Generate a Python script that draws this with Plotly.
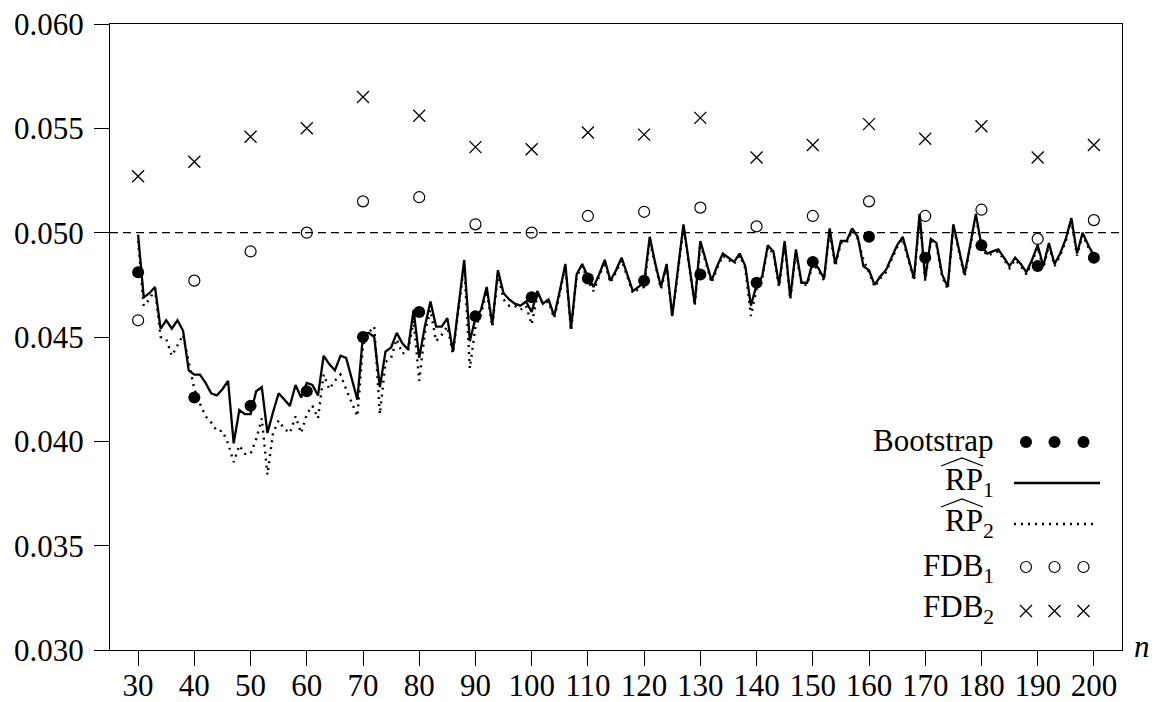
import plotly.graph_objects as go

# ---------------- data ----------------
n_vals = list(range(30, 201))

rp1 = [
    0.0499, 0.0469, 0.0471, 0.0474, 0.0454, 0.0458, 0.0454, 0.0458, 0.0453, 0.0434,  # 30-39
    0.0432, 0.0432, 0.0428, 0.0423, 0.0422, 0.0425, 0.0429, 0.0399, 0.0415, 0.0413,  # 40-49
    0.0413, 0.0424, 0.0426, 0.0404, 0.0414, 0.0423, 0.0420, 0.0417, 0.0427, 0.0421,  # 50-59
    0.0428, 0.0427, 0.0422, 0.0441, 0.0437, 0.0434, 0.0441, 0.0440, 0.0430, 0.0420,  # 60-69
    0.0451, 0.0452, 0.0450, 0.0426, 0.0443, 0.0445, 0.0452, 0.0447, 0.0444, 0.0463,  # 70-79
    0.0440, 0.0455, 0.0467, 0.0455, 0.0455, 0.0459, 0.0443, 0.0466, 0.0487, 0.0448,  # 80-89
    0.0459, 0.0463, 0.0474, 0.0456, 0.0482, 0.0471, 0.0468, 0.0466, 0.0465, 0.0467,  # 90-99
    0.0462, 0.0472, 0.0466, 0.0468, 0.0460, 0.0472, 0.0485, 0.0454, 0.0480, 0.0485,  # 100-109
    0.0479, 0.0474, 0.0480, 0.0487, 0.0477, 0.0482, 0.0488, 0.0480, 0.0472, 0.0474,  # 110-119
    0.0476, 0.0498, 0.0485, 0.0474, 0.0485, 0.0460, 0.0482, 0.0504, 0.0485, 0.0466,  # 120-129
    0.0496, 0.0486, 0.0477, 0.0484, 0.0490, 0.0488, 0.0486, 0.0490, 0.0484, 0.0465,  # 130-139
    0.0475, 0.0479, 0.0494, 0.0491, 0.0475, 0.0496, 0.0469, 0.0492, 0.0476, 0.0476,  # 140-149
    0.0486, 0.0483, 0.0478, 0.0502, 0.0485, 0.0496, 0.0496, 0.0502, 0.0498, 0.0484,  # 150-159
    0.0482, 0.0475, 0.0479, 0.0482, 0.0488, 0.0494, 0.0498, 0.0488, 0.0478, 0.0509,  # 160-169
    0.0478, 0.0497, 0.0495, 0.0480, 0.0474, 0.0504, 0.0492, 0.0480, 0.0494, 0.0509,  # 170-179
    0.0494, 0.0490, 0.0491, 0.0492, 0.0488, 0.0484, 0.0488, 0.0485, 0.0481, 0.0487,  # 180-189
    0.0494, 0.0484, 0.0495, 0.0485, 0.0490, 0.0497, 0.0507, 0.0490, 0.0500, 0.0494,  # 190-199
    0.0489,                                                                          # 200
]

rp2 = [
    0.0496, 0.0465, 0.0468, 0.0473, 0.0450, 0.0449, 0.0441, 0.0446, 0.0451, 0.0438,  # 30-39
    0.0425, 0.0418, 0.0412, 0.0409, 0.0405, 0.0405, 0.0399, 0.0390, 0.0398, 0.0394,  # 40-49
    0.0394, 0.0401, 0.0411, 0.0384, 0.0404, 0.0410, 0.0406, 0.0404, 0.0412, 0.0404,  # 50-59
    0.0413, 0.0417, 0.0411, 0.0432, 0.0425, 0.0429, 0.0432, 0.0425, 0.0418, 0.0412,  # 60-69
    0.0446, 0.0452, 0.0455, 0.0413, 0.0438, 0.0440, 0.0449, 0.0442, 0.0443, 0.0458,  # 70-79
    0.0429, 0.0452, 0.0463, 0.0448, 0.0451, 0.0455, 0.0442, 0.0464, 0.0485, 0.0435,  # 80-89
    0.0455, 0.0461, 0.0472, 0.0455, 0.0480, 0.0468, 0.0465, 0.0465, 0.0463, 0.0465,  # 90-99
    0.0456, 0.0470, 0.0466, 0.0467, 0.0459, 0.0471, 0.0484, 0.0453, 0.0479, 0.0484,  # 100-109
    0.0477, 0.0472, 0.0479, 0.0486, 0.0476, 0.0481, 0.0487, 0.0479, 0.0471, 0.0473,  # 110-119
    0.0474, 0.0496, 0.0484, 0.0473, 0.0484, 0.0460, 0.0481, 0.0503, 0.0484, 0.0465,  # 120-129
    0.0495, 0.0485, 0.0476, 0.0483, 0.0489, 0.0487, 0.0485, 0.0489, 0.0483, 0.0460,  # 130-139
    0.0473, 0.0478, 0.0493, 0.0490, 0.0474, 0.0495, 0.0468, 0.0491, 0.0475, 0.0475,  # 140-149
    0.0485, 0.0482, 0.0477, 0.0501, 0.0484, 0.0495, 0.0495, 0.0501, 0.0497, 0.0487,  # 150-159
    0.0481, 0.0474, 0.0478, 0.0481, 0.0487, 0.0493, 0.0497, 0.0487, 0.0477, 0.0508,  # 160-169
    0.0477, 0.0496, 0.0494, 0.0479, 0.0473, 0.0503, 0.0491, 0.0479, 0.0493, 0.0508,  # 170-179
    0.0493, 0.0489, 0.0490, 0.0491, 0.0487, 0.0483, 0.0487, 0.0484, 0.0480, 0.0486,  # 180-189
    0.0493, 0.0483, 0.0494, 0.0484, 0.0489, 0.0496, 0.0506, 0.0489, 0.0499, 0.0493,  # 190-199
    0.0488,                                                                          # 200
]

grid_n = list(range(30, 201, 10))
bootstrap = [0.0481, 0.0421, 0.0417, 0.0424, 0.0450, 0.0462, 0.0460, 0.0469, 0.0478,
             0.0477, 0.0480, 0.0476, 0.0486, 0.0498, 0.0488, 0.0494, 0.0484, 0.0488]
fdb1 = [0.0458, 0.0477, 0.0491, 0.0500, 0.0515, 0.0517, 0.0504, 0.0500, 0.0508,
        0.0510, 0.0512, 0.0503, 0.0508, 0.0515, 0.0508, 0.0511, 0.0497, 0.0506]
fdb2 = [0.0527, 0.0534, 0.0546, 0.0550, 0.0565, 0.0556, 0.0541, 0.0540, 0.0548,
        0.0547, 0.0555, 0.0536, 0.0542, 0.0552, 0.0545, 0.0551, 0.0536, 0.0542]

nominal_level = 0.05
x_ticks = list(range(30, 201, 10))
y_ticks = [0.030, 0.035, 0.040, 0.045, 0.050, 0.055, 0.060]
legend_labels = ["Bootstrap", "RP<sub>1</sub>", "RP<sub>2</sub>", "FDB<sub>1</sub>", "FDB<sub>2</sub>"]

# ---------------- figure ----------------
FONT = "Liberation Serif"
FS = 31
W, H = 1155, 702
ML, MR, MT, MB = 110, 33, 24, 52
PW, PH = W - ML - MR, H - MT - MB

fig = go.Figure()

fig.add_trace(go.Scatter(x=n_vals, y=rp2, mode="lines",
                         line=dict(color="black", width=2.4, dash="2px,5px"),
                         showlegend=False))
fig.add_trace(go.Scatter(x=n_vals, y=rp1, mode="lines",
                         line=dict(color="black", width=2.3),
                         showlegend=False))
fig.add_trace(go.Scatter(x=grid_n, y=bootstrap, mode="markers",
                         marker=dict(symbol="circle", size=12, color="black"),
                         showlegend=False))
fig.add_trace(go.Scatter(x=grid_n, y=fdb1, mode="markers",
                         marker=dict(symbol="circle-open", size=11, color="black",
                                     line=dict(width=1.2)),
                         showlegend=False))
fig.add_trace(go.Scatter(x=grid_n, y=fdb2, mode="markers",
                         marker=dict(symbol="x-thin", size=12, color="black",
                                     line=dict(width=1.3, color="black")),
                         showlegend=False))

fig.add_hline(y=nominal_level, line=dict(color="black", width=1.3, dash="8px,5px"))

# ---- custom legend (symbols on the right of the labels) drawn on overlay axes ----
row_py = [442, 483, 524, 567, 611]
sym_px = [1026, 1054.5, 1083.5]
line_px = [1014, 1100]
def lx(px):
    return (px - ML) / PW
def ly(py):
    return (H - MB - py) / PH

leg_common = dict(xaxis="x2", yaxis="y2", showlegend=False, hoverinfo="skip")
fig.add_trace(go.Scatter(x=[lx(p) for p in sym_px], y=[ly(row_py[0])] * 3, mode="markers",
                         marker=dict(symbol="circle", size=12, color="black"), **leg_common))
fig.add_trace(go.Scatter(x=[lx(p) for p in line_px], y=[ly(row_py[1])] * 2, mode="lines",
                         line=dict(color="black", width=2.4), **leg_common))
fig.add_trace(go.Scatter(x=[lx(1014), lx(1096)], y=[ly(row_py[2])] * 2, mode="lines",
                         line=dict(color="black", width=2.4, dash="2px,5px"), **leg_common))
fig.add_trace(go.Scatter(x=[lx(p) for p in sym_px], y=[ly(row_py[3])] * 3, mode="markers",
                         marker=dict(symbol="circle-open", size=11, color="black",
                                     line=dict(width=1.2)), **leg_common))
fig.add_trace(go.Scatter(x=[lx(p) for p in sym_px], y=[ly(row_py[4])] * 3, mode="markers",
                         marker=dict(symbol="x-thin", size=12, color="black",
                                     line=dict(width=1.3, color="black")), **leg_common))

text_right = 996
text_cy = [438, 480, 521, 566, 607]
for lab, cy in zip(legend_labels, text_cy):
    fig.add_annotation(x=lx(text_right), y=ly(cy + 2), xref="paper", yref="paper",
                       text=lab, showarrow=False, xanchor="right", yanchor="middle",
                       font=dict(family=FONT, size=FS, color="black"))

# wide hats over RP
for cy in (text_cy[1], text_cy[2]):
    x0, x1 = 941, 983
    ytop, ybot = cy - 22, cy - 14
    xm = (x0 + x1) / 2
    fig.add_shape(type="path", xref="paper", yref="paper",
                  path=f"M {lx(x0)},{ly(ybot)} L {lx(xm)},{ly(ytop)} L {lx(x1)},{ly(ybot)}",
                  line=dict(color="black", width=1.2))

# axis label n
fig.add_annotation(x=lx(1142), y=ly(646), xref="paper", yref="paper", text="<i>n</i>",
                   showarrow=False, xanchor="center", yanchor="middle",
                   font=dict(family=FONT, size=FS, color="black"))

axis_common = dict(showline=True, linecolor="black", linewidth=1.3, mirror=True,
                   ticks="outside", ticklen=15, tickwidth=1.3, tickcolor="black",
                   showgrid=False, zeroline=False, automargin=False,
                   tickfont=dict(family=FONT, size=FS, color="black"))

fig.update_layout(
    template="none",
    width=W, height=H, autosize=False,
    margin=dict(l=ML, r=MR, t=MT, b=MB, pad=0),
    paper_bgcolor="white", plot_bgcolor="white",
    showlegend=False,
    xaxis=dict(range=[25, 205], tickvals=x_ticks, ticktext=[str(v) for v in x_ticks],
               ticklabelstandoff=-7, **axis_common),
    yaxis=dict(range=[0.030, 0.060], tickvals=y_ticks, ticktext=[f"{v:.3f}" for v in y_ticks],
               ticklabelstandoff=4, **axis_common),
    xaxis2=dict(overlaying="x", range=[0, 1], visible=False),
    yaxis2=dict(overlaying="y", range=[0, 1], visible=False),
)

fig.write_html("out.html")
